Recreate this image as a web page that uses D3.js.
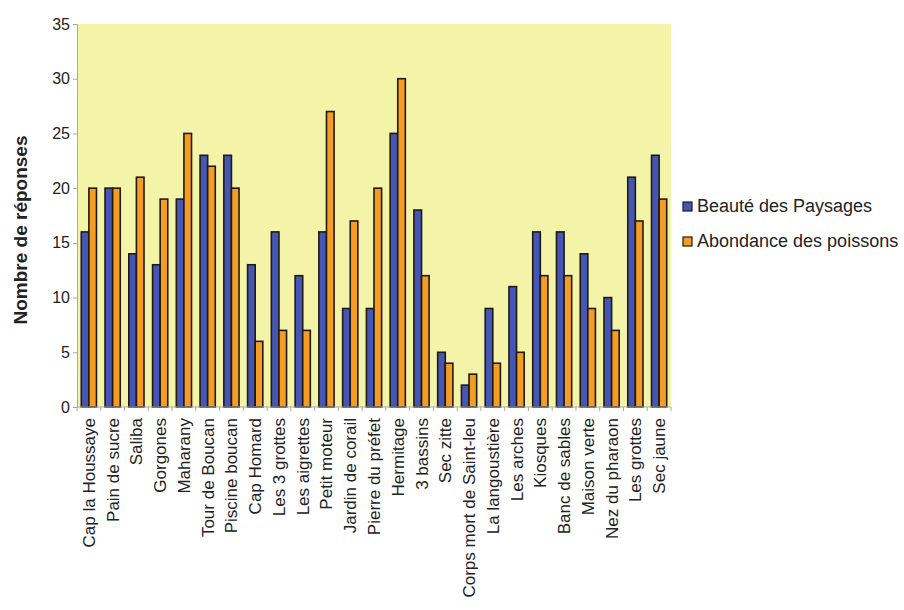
<!DOCTYPE html>
<html><head><meta charset="utf-8">
<script src="https://cdn.jsdelivr.net/npm/d3@7"></script>
<style>body{margin:0;background:#fff;} text{font-family:Arial,"Liberation Sans",sans-serif;}</style>
</head><body><svg id="c" width="904" height="610"></svg>
<script>
const categories = ["Cap la Houssaye","Pain de sucre","Saliba","Gorgones","Maharany","Tour de Boucan","Piscine boucan","Cap Homard","Les 3 grottes","Les aigrettes","Petit moteur","Jardin de corail","Pierre du préfet","Hermitage","3 bassins","Sec zitte","Corps mort de Saint-leu","La langoustière","Les arches","Kiosques","Banc de sables","Maison verte","Nez du pharaon","Les grottes","Sec jaune"];
const beaute = [16,20,14,13,19,23,23,13,16,12,16,9,9,25,18,5,2,9,11,16,16,14,10,21,23];
const abondance = [20,20,21,19,25,22,20,6,7,7,27,17,20,30,12,4,3,4,5,12,12,9,7,17,19];
const seriesNames = ["Beauté des Paysages","Abondance des poissons"];
const yTicks = [0,5,10,15,20,25,30,35];

const svg = d3.select("#c");
const L=77,R=671,T=24,B=407;
const x = d3.scaleBand().domain(categories).range([L,R]).paddingInner(0.36).paddingOuter(0.18);
const x0 = d3.scaleBand().domain(categories).range([L,R]);
const xs = d3.scaleBand().domain([0,1]).range([0,x.bandwidth()]);
const y = d3.scaleLinear().domain([0,35]).range([B,T]);
const colors = ["#4656b4","#f59d22"];

svg.append("rect").attr("x",L).attr("y",T).attr("width",R-L).attr("height",B-T).attr("fill","#f4f4a9");

const data = [beaute, abondance];
data.forEach((vals,si)=>{
  svg.append("g").selectAll("rect").data(vals).join("rect")
    .attr("x",(d,i)=>x(categories[i])+xs(si))
    .attr("y",d=>y(d))
    .attr("width",xs.bandwidth())
    .attr("height",d=>B-y(d))
    .attr("fill",colors[si]).attr("stroke","#1f1a14").attr("stroke-width",1.6);
});

// y axis
const ya = svg.append("g").attr("transform",`translate(${L},0)`)
  .call(d3.axisLeft(y).tickValues(yTicks).tickSize(4).tickPadding(3));
ya.select(".domain").attr("stroke","#aaa");
ya.selectAll(".tick line").attr("stroke","#aaa");
ya.selectAll("text").style("font-size","16px").attr("fill","#222");

// x axis
const xa = svg.append("g").attr("transform",`translate(0,${B})`);
xa.append("line").attr("x1",L).attr("x2",R).attr("stroke","#aaa");
xa.selectAll("line.t").data(categories.concat(["__end"])).join("line").attr("class","t")
  .attr("x1",(d,i)=>L+i*x0.step()).attr("x2",(d,i)=>L+i*x0.step()).attr("y1",0).attr("y2",4).attr("stroke","#aaa");
xa.selectAll("text").data(categories).join("text")
  .attr("transform",d=>`translate(${x0(d)+x0.bandwidth()/2+6},11) rotate(-90)`)
  .attr("text-anchor","end").style("font-size","17px").attr("fill","#222").text(d=>d);

// y label
svg.append("text").attr("transform","translate(27,230) rotate(-90)").attr("text-anchor","middle")
  .style("font-size","19px").style("font-weight","bold").attr("fill","#222").text("Nombre de réponses");

// legend
const lg = svg.append("g");
seriesNames.forEach((n,i)=>{
  const yy = 206 + i*35;
  lg.append("rect").attr("x",683).attr("y",yy-4).attr("width",9).attr("height",9).attr("fill",colors[i]).attr("stroke","#1f1a14").attr("stroke-width",1.2);
  lg.append("text").attr("x",697).attr("y",yy+6).style("font-size","18px").attr("fill","#222").text(n);
});
</script></body></html>
